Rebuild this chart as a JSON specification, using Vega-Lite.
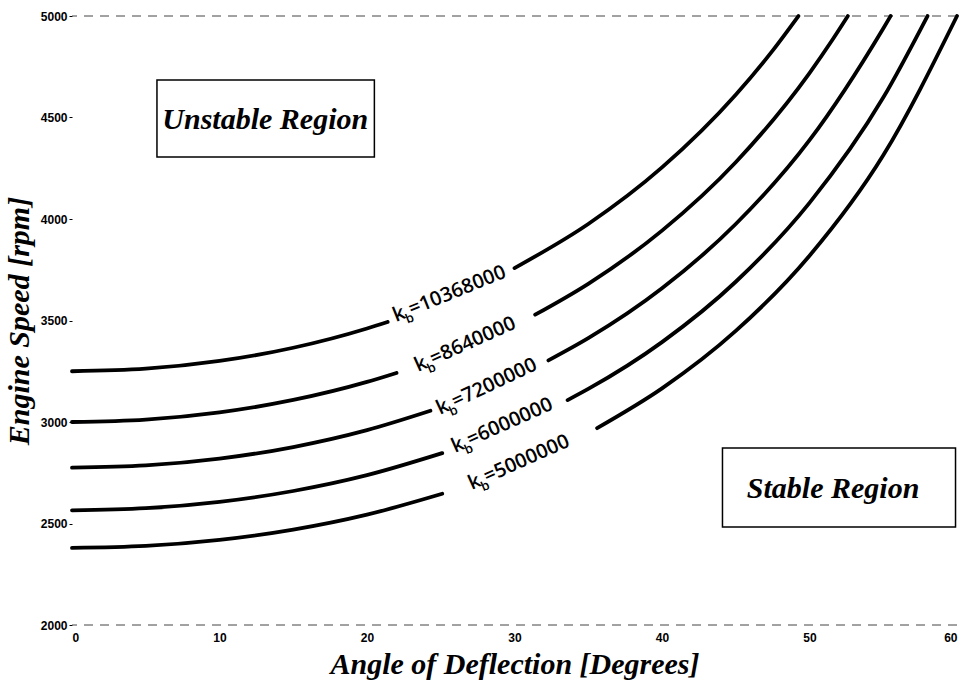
{
  "$schema": "https://vega.github.io/schema/vega-lite/v6.json",
  "width": 885,
  "height": 609,
  "autosize": "none",
  "padding": {"left": 72, "top": 16, "right": 9, "bottom": 59},
  "background": "white",
  "config": {"view": {"stroke": null}},
  "datasets": {
    "curves": [
      {"seg": "1a", "angle": 0, "rpm": 3250}, {"seg": "1a", "angle": 5, "rpm": 3262.5}, {"seg": "1a", "angle": 10, "rpm": 3300.6}, {"seg": "1a", "angle": 15, "rpm": 3365.8}, {"seg": "1a", "angle": 20, "rpm": 3460.7}, {"seg": "1a", "angle": 21.4, "rpm": 3493.1},
      {"seg": "1b", "angle": 30, "rpm": 3758.2}, {"seg": "1b", "angle": 35, "rpm": 3975.6}, {"seg": "1b", "angle": 40, "rpm": 4254.1}, {"seg": "1b", "angle": 45, "rpm": 4612.2}, {"seg": "1b", "angle": 47.5, "rpm": 4829.6}, {"seg": "1b", "angle": 49.25, "rpm": 5000},
      {"seg": "2a", "angle": 0, "rpm": 3000}, {"seg": "2a", "angle": 5, "rpm": 3011.8}, {"seg": "2a", "angle": 10, "rpm": 3047.4}, {"seg": "2a", "angle": 15, "rpm": 3108.5}, {"seg": "2a", "angle": 20, "rpm": 3197.4}, {"seg": "2a", "angle": 22, "rpm": 3241.8},
      {"seg": "2b", "angle": 31.4, "rpm": 3528.6}, {"seg": "2b", "angle": 35, "rpm": 3680.8}, {"seg": "2b", "angle": 40, "rpm": 3942.6}, {"seg": "2b", "angle": 45, "rpm": 4279.6}, {"seg": "2b", "angle": 50, "rpm": 4719.0}, {"seg": "2b", "angle": 51.5, "rpm": 4876.6}, {"seg": "2b", "angle": 52.6, "rpm": 5000},
      {"seg": "3a", "angle": 0, "rpm": 2775}, {"seg": "3a", "angle": 5, "rpm": 2786}, {"seg": "3a", "angle": 10, "rpm": 2819.4}, {"seg": "3a", "angle": 15, "rpm": 2876.6}, {"seg": "3a", "angle": 20, "rpm": 2959.8}, {"seg": "3a", "angle": 24.3, "rpm": 3055.2},
      {"seg": "3b", "angle": 32.3, "rpm": 3303.5}, {"seg": "3b", "angle": 35, "rpm": 3412.9}, {"seg": "3b", "angle": 40, "rpm": 3658.6}, {"seg": "3b", "angle": 45, "rpm": 3975.2}, {"seg": "3b", "angle": 50, "rpm": 4388.3}, {"seg": "3b", "angle": 55, "rpm": 4938.8}, {"seg": "3b", "angle": 55.5, "rpm": 5000},
      {"seg": "4a", "angle": 0, "rpm": 2565}, {"seg": "4a", "angle": 5, "rpm": 2575.3}, {"seg": "4a", "angle": 10, "rpm": 2606.6}, {"seg": "4a", "angle": 15, "rpm": 2660.1}, {"seg": "4a", "angle": 20, "rpm": 2738.1}, {"seg": "4a", "angle": 25.1, "rpm": 2846.5},
      {"seg": "4b", "angle": 33.6, "rpm": 3107.8}, {"seg": "4b", "angle": 35, "rpm": 3162.8}, {"seg": "4b", "angle": 40, "rpm": 3393.5}, {"seg": "4b", "angle": 45, "rpm": 3690.9}, {"seg": "4b", "angle": 50, "rpm": 4079.6}, {"seg": "4b", "angle": 55, "rpm": 4598.2}, {"seg": "4b", "angle": 58, "rpm": 5000},
      {"seg": "5a", "angle": 0, "rpm": 2380}, {"seg": "5a", "angle": 5, "rpm": 2389.7}, {"seg": "5a", "angle": 10, "rpm": 2419.3}, {"seg": "5a", "angle": 15, "rpm": 2469.9}, {"seg": "5a", "angle": 20, "rpm": 2543.7}, {"seg": "5a", "angle": 25.1, "rpm": 2646.5},
      {"seg": "5b", "angle": 35.6, "rpm": 2969.7}, {"seg": "5b", "angle": 40, "rpm": 3165.5}, {"seg": "5b", "angle": 45, "rpm": 3448.5}, {"seg": "5b", "angle": 50, "rpm": 3819}, {"seg": "5b", "angle": 55, "rpm": 4313.8}, {"seg": "5b", "angle": 60, "rpm": 5000}
    ],
    "labels": [
      {"angle": 21.97, "rpm": 3493, "rot": -22, "k": "k", "sub": "b", "num": "=10368000"},
      {"angle": 23.46, "rpm": 3246, "rot": -24, "k": "k", "sub": "b", "num": "=8640000"},
      {"angle": 24.95, "rpm": 3034, "rot": -25, "k": "k", "sub": "b", "num": "=7200000"},
      {"angle": 25.97, "rpm": 2847, "rot": -24, "k": "k", "sub": "b", "num": "=6000000"},
      {"angle": 27.1, "rpm": 2665, "rot": -24, "k": "k", "sub": "b", "num": "=5000000"}
    ],
    "boxes": [
      {"x1": 5.76, "x2": 20.5, "y1": 4685, "y2": 4305, "cx": 13.1, "cy": 4488, "text": "Unstable Region"},
      {"x1": 44.1, "x2": 59.9, "y1": 2872, "y2": 2483, "cx": 51.6, "cy": 2670, "text": "Stable Region"}
    ],
    "borders": [{"rpm": 5000}, {"rpm": 2000}]
  },
  "layer": [
    {
      "data": {"name": "borders"},
      "mark": {"type": "rule", "stroke": "#444", "strokeWidth": 1, "strokeDash": [9, 7]},
      "encoding": {
        "y": {"field": "rpm", "type": "quantitative", "scale": {"domain": [2000, 5000], "nice": false, "zero": false}}
      }
    },
    {
      "data": {"name": "curves"},
      "mark": {"type": "line", "stroke": "black", "strokeWidth": 3.8, "interpolate": "monotone", "strokeCap": "round"},
      "encoding": {
        "x": {"field": "angle", "type": "quantitative", "scale": {"domain": [0, 60], "nice": false},
          "axis": {"values": [0, 10, 20, 30, 40, 50, 60], "grid": false, "domain": false, "tickSize": 0, "labelPadding": 7,
            "labelFont": "Liberation Sans", "labelFontWeight": "bold", "labelFontSize": 12, "labelColor": "black",
            "title": "Angle of Deflection [Degrees]", "titleFont": "Liberation Serif", "titleFontStyle": "italic", "titleFontWeight": "bold",
            "titleFontSize": 30, "titleColor": "black", "titlePadding": 6}},
        "y": {"field": "rpm", "type": "quantitative", "scale": {"domain": [2000, 5000], "nice": false, "zero": false},
          "axis": {"values": [2000, 2500, 3000, 3500, 4000, 4500, 5000], "format": "d", "grid": false, "domain": false, "tickSize": 3, "tickColor": "black",
            "labelPadding": 2, "labelFont": "Liberation Sans", "labelFontWeight": "bold", "labelFontSize": 12, "labelColor": "black",
            "title": "Engine Speed [rpm]", "titleFont": "Liberation Serif", "titleFontStyle": "italic", "titleFontWeight": "bold",
            "titleFontSize": 30, "titleColor": "black", "titlePadding": 6}},
        "detail": {"field": "seg", "type": "nominal"}
      }
    },
    {
      "data": {"name": "labels"},
      "mark": {"type": "text", "fontSize": 20, "font": "Open Sans", "fontWeight": 600, "align": "left", "baseline": "alphabetic", "color": "black"},
      "encoding": {
        "x": {"field": "angle", "type": "quantitative"},
        "y": {"field": "rpm", "type": "quantitative"},
        "angle": {"field": "rot", "type": "quantitative", "scale": null},
        "text": {"field": "k"}
      }
    },
    {
      "data": {"name": "labels"},
      "mark": {"type": "text", "fontSize": 13, "font": "Open Sans", "fontWeight": 600, "align": "left", "baseline": "alphabetic", "dx": 10, "dy": 6, "color": "black"},
      "encoding": {
        "x": {"field": "angle", "type": "quantitative"},
        "y": {"field": "rpm", "type": "quantitative"},
        "angle": {"field": "rot", "type": "quantitative", "scale": null},
        "text": {"field": "sub"}
      }
    },
    {
      "data": {"name": "labels"},
      "mark": {"type": "text", "fontSize": 20, "font": "Open Sans", "fontWeight": 600, "align": "left", "baseline": "alphabetic", "dx": 17, "color": "black"},
      "encoding": {
        "x": {"field": "angle", "type": "quantitative"},
        "y": {"field": "rpm", "type": "quantitative"},
        "angle": {"field": "rot", "type": "quantitative", "scale": null},
        "text": {"field": "num"}
      }
    },
    {
      "data": {"name": "boxes"},
      "mark": {"type": "rect", "fill": "white", "stroke": "black", "strokeWidth": 1.5},
      "encoding": {
        "x": {"field": "x1", "type": "quantitative"},
        "x2": {"field": "x2"},
        "y": {"field": "y1", "type": "quantitative"},
        "y2": {"field": "y2"}
      }
    },
    {
      "data": {"name": "boxes"},
      "mark": {"type": "text", "font": "Liberation Serif", "fontStyle": "italic", "fontWeight": "bold", "fontSize": 30, "align": "center", "baseline": "middle", "color": "black"},
      "encoding": {
        "x": {"field": "cx", "type": "quantitative"},
        "y": {"field": "cy", "type": "quantitative"},
        "text": {"field": "text"}
      }
    }
  ]
}
